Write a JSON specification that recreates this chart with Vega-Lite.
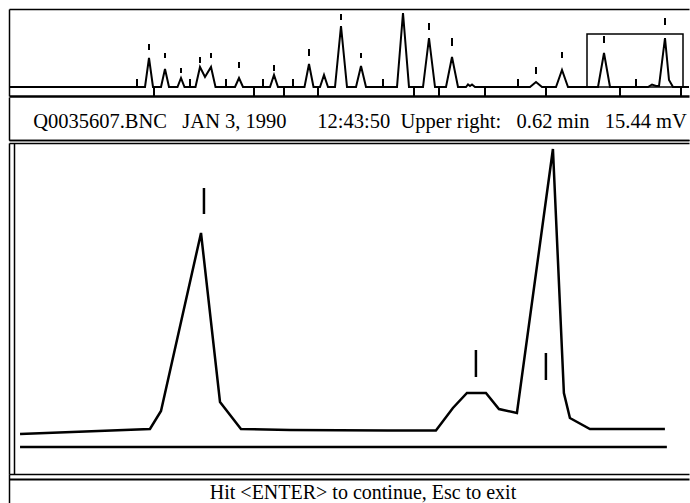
{
  "$schema": "https://vega.github.io/schema/vega-lite/v6.json",
  "padding": {"left": 5, "top": 9, "right": 0, "bottom": 0},
  "spacing": 0,
  "bounds": "full",
  "background": "white",
  "config": {"view": {"stroke": null}},
  "datasets": {
    "overview": [
      {"t": 0, "mV": 0},
      {"t": 0.12512, "mV": 0}, {"t": 0.1288, "mV": 8.12}, {"t": 0.13248, "mV": 0},
      {"t": 0.13984, "mV": 0}, {"t": 0.14352, "mV": 5.04}, {"t": 0.1472, "mV": 0},
      {"t": 0.15502, "mV": 0}, {"t": 0.15824, "mV": 2.52}, {"t": 0.16146, "mV": 0},
      {"t": 0.17158, "mV": 0}, {"t": 0.17572, "mV": 5.6}, {"t": 0.18032, "mV": 2.8}, {"t": 0.18584, "mV": 5.6}, {"t": 0.18998, "mV": 0},
      {"t": 0.20792, "mV": 0}, {"t": 0.2116, "mV": 2.52}, {"t": 0.21528, "mV": 0},
      {"t": 0.24012, "mV": 0}, {"t": 0.2438, "mV": 3.36}, {"t": 0.24748, "mV": 0},
      {"t": 0.27186, "mV": 0}, {"t": 0.276, "mV": 6.44}, {"t": 0.28014, "mV": 0},
      {"t": 0.28612, "mV": 0}, {"t": 0.2898, "mV": 3.36}, {"t": 0.29348, "mV": 0},
      {"t": 0.29992, "mV": 0}, {"t": 0.30544, "mV": 17.08}, {"t": 0.31096, "mV": 0},
      {"t": 0.31924, "mV": 0}, {"t": 0.32384, "mV": 5.88}, {"t": 0.32844, "mV": 0},
      {"t": 0.35696, "mV": 0}, {"t": 0.36248, "mV": 20.72}, {"t": 0.368, "mV": 0},
      {"t": 0.38088, "mV": 0}, {"t": 0.3864, "mV": 13.72}, {"t": 0.39192, "mV": 0},
      {"t": 0.40204, "mV": 0}, {"t": 0.40756, "mV": 8.4}, {"t": 0.41308, "mV": 0},
      {"t": 0.42044, "mV": 0}, {"t": 0.42228, "mV": 0.7}, {"t": 0.42412, "mV": 0.28}, {"t": 0.42596, "mV": 0.7}, {"t": 0.42872, "mV": 0},
      {"t": 0.47932, "mV": 0}, {"t": 0.48484, "mV": 1.4}, {"t": 0.49036, "mV": 0},
      {"t": 0.50324, "mV": 0}, {"t": 0.50876, "mV": 4.76}, {"t": 0.51428, "mV": 0},
      {"t": 0.54188, "mV": 0}, {"t": 0.5474, "mV": 9.52}, {"t": 0.55292, "mV": 0},
      {"t": 0.58788, "mV": 0}, {"t": 0.59156, "mV": 0.7}, {"t": 0.59524, "mV": 0.28},
      {"t": 0.598, "mV": 0.28}, {"t": 0.60352, "mV": 13.72}, {"t": 0.6072, "mV": 1.96}, {"t": 0.61088, "mV": 0},
      {"t": 0.6256, "mV": 0}
    ],
    "overviewMarks": [
      {"t": 0.1288, "v1": 12.04, "v2": 10.36},
      {"t": 0.14352, "v1": 9.52, "v2": 8.12},
      {"t": 0.15824, "v1": 5.32, "v2": 3.92},
      {"t": 0.17572, "v1": 8.4, "v2": 6.72},
      {"t": 0.18584, "v1": 9.52, "v2": 8.12},
      {"t": 0.2116, "v1": 7.0, "v2": 5.32},
      {"t": 0.2438, "v1": 6.16, "v2": 4.48},
      {"t": 0.276, "v1": 10.64, "v2": 8.68},
      {"t": 0.30544, "v1": 20.44, "v2": 18.76},
      {"t": 0.32384, "v1": 9.52, "v2": 8.12},
      {"t": 0.3864, "v1": 17.92, "v2": 15.96},
      {"t": 0.40756, "v1": 13.72, "v2": 11.48},
      {"t": 0.48484, "v1": 5.6, "v2": 3.64},
      {"t": 0.50876, "v1": 9.8, "v2": 8.12},
      {"t": 0.5474, "v1": 14.28, "v2": 12.32},
      {"t": 0.60352, "v1": 19.32, "v2": 17.36},
      {"t": 0.11776, "v1": 0, "v2": 2.24},
      {"t": 0.16652, "v1": 0, "v2": 2.24},
      {"t": 0.19964, "v1": 0, "v2": 2.24},
      {"t": 0.23368, "v1": 0, "v2": 2.24},
      {"t": 0.26128, "v1": 0, "v2": 2.24},
      {"t": 0.34408, "v1": 0, "v2": 2.24},
      {"t": 0.46828, "v1": 0, "v2": 2.24},
      {"t": 0.57684, "v1": 0, "v2": 2.24},
      {"t": 0.1334, "v1": 0, "v2": -2.52},
      {"t": 0.2254, "v1": 0, "v2": -2.52},
      {"t": 0.253, "v1": 0, "v2": -2.52},
      {"t": 0.28428, "v1": 0, "v2": -2.52},
      {"t": 0.3726, "v1": 0, "v2": -2.52},
      {"t": 0.3956, "v1": 0, "v2": -2.52},
      {"t": 0.43792, "v1": 0, "v2": -2.52},
      {"t": 0.49404, "v1": 0, "v2": -2.52},
      {"t": 0.56212, "v1": 0, "v2": -2.52},
      {"t": 0.61824, "v1": 0, "v2": -2.52}
    ],
    "zoomBox": [{"t1": 0.53176, "t2": 0.62008, "v1": 14.84, "v2": 0}],
    "main": [
      {"t": 0.51856, "mV": -0.53},
      {"t": 0.53928, "mV": -0.28},
      {"t": 0.54104, "mV": 0.62},
      {"t": 0.54742, "mV": 9.52},
      {"t": 0.55045, "mV": 1.07},
      {"t": 0.55379, "mV": -0.28},
      {"t": 0.56161, "mV": -0.33},
      {"t": 0.57723, "mV": -0.355},
      {"t": 0.58488, "mV": -0.355},
      {"t": 0.58759, "mV": 0.77},
      {"t": 0.58983, "mV": 1.52},
      {"t": 0.59286, "mV": 1.52},
      {"t": 0.59493, "mV": 0.72},
      {"t": 0.5978, "mV": 0.52},
      {"t": 0.60354, "mV": 13.72},
      {"t": 0.60529, "mV": 1.52},
      {"t": 0.60625, "mV": 0.27},
      {"t": 0.60944, "mV": -0.28},
      {"t": 0.6214, "mV": -0.28}
    ],
    "mainLower": [{"t1": 0.51856, "t2": 0.62171, "v": -1.18}],
    "mainMarks": [
      {"t": 0.54789, "v1": 11.77, "v2": 10.47},
      {"t": 0.59126, "v1": 3.67, "v2": 2.32},
      {"t": 0.60242, "v1": 3.52, "v2": 2.17}
    ]
  },
  "vconcat": [
    {
      "width": 680,
      "height": 87,
      "layer": [
        {
          "data": {"name": "overview"},
          "mark": {"type": "line", "color": "black", "strokeWidth": 2},
          "encoding": {
            "x": {"field": "t", "type": "quantitative", "scale": {"domain": [0, 0.6256], "nice": false, "zero": false},
              "axis": {"orient": "bottom", "domain": true, "domainColor": "black", "domainWidth": 2.5, "ticks": false, "labels": false, "title": null, "grid": false}},
            "y": {"field": "mV", "type": "quantitative", "scale": {"domain": [-2.52, 21.84], "nice": false, "zero": false},
              "axis": {"orient": "left", "domain": true, "domainColor": "black", "domainWidth": 1.5, "ticks": false, "labels": false, "title": null, "minExtent": 0, "maxExtent": 0,
                "grid": true, "values": [21.83], "gridColor": "black", "gridWidth": 1.5, "gridOpacity": 1}}
          }
        },
        {
          "data": {"name": "overviewMarks"},
          "mark": {"type": "rule", "color": "black", "strokeWidth": 2},
          "encoding": {
            "x": {"field": "t", "type": "quantitative"},
            "y": {"field": "v1", "type": "quantitative"},
            "y2": {"field": "v2"}
          }
        },
        {
          "data": {"name": "zoomBox"},
          "mark": {"type": "rect", "fill": null, "fillOpacity": 0, "stroke": "black", "strokeWidth": 1.5},
          "encoding": {
            "x": {"field": "t1", "type": "quantitative"},
            "x2": {"field": "t2"},
            "y": {"field": "v1", "type": "quantitative"},
            "y2": {"field": "v2"}
          }
        }
      ]
    },
    {
      "width": 680,
      "height": 43,
      "data": {"values": [{"label": "Q0035607.BNC\u00a0\u00a0\u00a0JAN\u00a03,\u00a01990\u00a0\u00a0\u00a0\u00a0\u00a0\u00a012:43:50\u00a0\u00a0Upper\u00a0right:\u00a0\u00a0\u00a00.62\u00a0min\u00a0\u00a0\u00a015.44\u00a0mV"}]},
      "mark": {"type": "text", "font": "Liberation Serif", "fontSize": 20.5, "color": "black", "align": "center", "baseline": "middle", "dx": 11, "dy": 3},
      "encoding": {
        "text": {"field": "label", "type": "nominal"},
        "x": {"field": "label", "type": "nominal",
          "axis": {"orient": "bottom", "domain": true, "domainColor": "black", "domainWidth": 1.5, "ticks": false, "labels": false, "title": null}},
        "y": {"field": "label", "type": "nominal",
          "axis": {"orient": "left", "domain": true, "domainColor": "black", "domainWidth": 1.5, "ticks": false, "labels": false, "title": null, "minExtent": 0, "maxExtent": 0}}
      }
    },
    {
      "width": 680,
      "height": 331,
      "layer": [
        {
          "data": {"name": "main"},
          "mark": {"type": "line", "color": "black", "strokeWidth": 2.5},
          "encoding": {
            "x": {"field": "t", "type": "quantitative", "scale": {"domain": [0.5168, 0.62524], "nice": false, "zero": false},
              "axis": {"orient": "top", "offset": 3, "domain": true, "domainColor": "black", "domainWidth": 1.5, "ticks": false, "labels": false, "title": null,
                "grid": true, "values": [0.5176], "gridColor": "black", "gridWidth": 1.5, "gridOpacity": 1}},
            "y": {"field": "mV", "type": "quantitative", "scale": {"domain": [-2.53, 14.02], "nice": false, "zero": false},
              "axis": {"orient": "left", "domain": true, "domainColor": "black", "domainWidth": 1.5, "ticks": false, "labels": false, "title": null, "minExtent": 0, "maxExtent": 0,
                "grid": true, "values": [-2.51, 14.0], "gridColor": "black", "gridWidth": 1.5, "gridOpacity": 1}}
          }
        },
        {
          "data": {"name": "mainLower"},
          "mark": {"type": "rule", "color": "black", "strokeWidth": 2.5},
          "encoding": {
            "x": {"field": "t1", "type": "quantitative"},
            "x2": {"field": "t2"},
            "y": {"field": "v", "type": "quantitative"}
          }
        },
        {
          "data": {"name": "mainMarks"},
          "mark": {"type": "rule", "color": "black", "strokeWidth": 2.5},
          "encoding": {
            "x": {"field": "t", "type": "quantitative"},
            "y": {"field": "v1", "type": "quantitative"},
            "y2": {"field": "v2"}
          }
        }
      ]
    },
    {
      "width": 680,
      "height": 29,
      "data": {"values": [{"label": "Hit <ENTER> to continue, Esc to exit"}]},
      "mark": {"type": "text", "font": "Liberation Serif", "fontSize": 20, "color": "black", "align": "center", "baseline": "middle", "dx": 14, "dy": 4},
      "encoding": {
        "text": {"field": "label", "type": "nominal"},
        "x": {"field": "label", "type": "nominal",
          "axis": {"orient": "top", "offset": -5, "domain": true, "domainColor": "black", "domainWidth": 2, "ticks": false, "labels": false, "title": null}},
        "y": {"field": "label", "type": "nominal",
          "axis": {"orient": "left", "domain": true, "domainColor": "black", "domainWidth": 1.5, "ticks": false, "labels": false, "title": null, "minExtent": 0, "maxExtent": 0}}
      }
    }
  ]
}
